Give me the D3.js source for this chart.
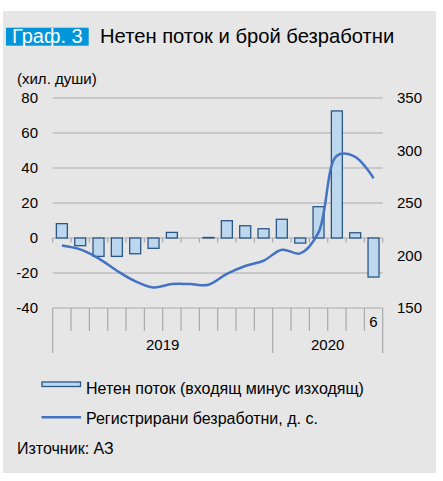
<!DOCTYPE html>
<html>
<head>
<meta charset="utf-8">
<script src="https://cdn.jsdelivr.net/npm/d3@7"></script>
<style>
  body { margin: 0; background: #fff; }
  svg text { font-family: "Liberation Sans", Arial, sans-serif; fill: #000; }
</style>
</head>
<body>
<div id="chart"></div>
<script>
// months Jan 2019 .. Jun 2020
const months = ["1", "2", "3", "4", "5", "6", "7", "8", "9", "10", "11", "12",
                "1", "2", "3", "4", "5", "6"];
const monthLabels = ["", "", "", "", "", "", "", "", "", "", "", "",
                     "", "", "", "", "", "6"];
const years = ["2019", "2020"];
const yearMonths = [12, 6];
// net flow, thousand persons (left axis)
const netFlow = [8.2, -4.4, -10.5, -10.5, -9, -5.9, 3.2, null, 0.3, 9.9, 7, 5.3,
                 10.7, -2.9, 17.9, 72.6, 3, -22.3];
// registered unemployed, thousand persons (right axis)
const unemployed = [209.5, 205.8, 197.3, 185.5, 175.5, 169.5, 172.8, 172.8, 172.2, 182.5, 190, 195,
                    205.5, 202, 222, 295, 294, 273.5];
const leftTicks = [-40, -20, 0, 20, 40, 60, 80];
const rightTicks = [150, 200, 250, 300, 350];

const W = 443, H = 481;
const plot = { left: 52.7, right: 382.7, top: 98, bottom: 308 };

const svg = d3.select("#chart").append("svg")
    .attr("width", W)
    .attr("height", H);

svg.append("rect")
    .attr("x", 3).attr("y", 11)
    .attr("width", 433).attr("height", 462)
    .attr("fill", "#e6e6e6");

// title
svg.append("rect")
    .attr("x", 6).attr("y", 27.7)
    .attr("width", 82.7).attr("height", 18)
    .attr("fill", "#0096d9");
svg.append("text")
    .attr("x", 12).attr("y", 43)
    .style("font-size", "20px")
    .style("fill", "#fff")
    .text("Граф. 3");
svg.append("text")
    .attr("x", 100).attr("y", 43)
    .style("font-size", "20.2px")
    .text("Нетен поток и брой безработни");

svg.append("text")
    .attr("x", 17).attr("y", 84)
    .style("font-size", "15px")
    .text("(хил. души)");

const x = d3.scaleBand()
    .domain(d3.range(months.length))
    .range([plot.left, plot.right])
    .paddingInner(0.4)
    .paddingOuter(0.2);
const step = x.step();
const yL = d3.scaleLinear().domain([-40, 80]).range([plot.bottom, plot.top]);
const yR = d3.scaleLinear().domain([150, 350]).range([plot.bottom, plot.top]);

// gridlines
svg.append("g")
    .selectAll("line")
    .data(leftTicks)
    .join("line")
    .attr("x1", plot.left).attr("x2", plot.right)
    .attr("y1", d => yL(d)).attr("y2", d => yL(d))
    .attr("stroke", "#a9a9a9")
    .attr("stroke-width", 1.2);

// left axis labels
const leftAxis = svg.append("g")
    .attr("transform", `translate(38,0)`)
    .call(d3.axisLeft(yL).tickValues(leftTicks).tickSize(0).tickPadding(0)
        .tickFormat(d => String(d)));
leftAxis.select(".domain").remove();
leftAxis.selectAll("text").style("font-size", "15px").attr("font-family", null);

// right axis labels
const rightAxis = svg.append("g")
    .attr("transform", `translate(397,0)`)
    .call(d3.axisRight(yR).tickValues(rightTicks).tickSize(0).tickPadding(0));
rightAxis.select(".domain").remove();
rightAxis.selectAll("text").style("font-size", "15px").attr("font-family", null);

// small ticks under zero line
const bounds = d3.range(months.length + 1).map(i => plot.left + i * step);
svg.append("g")
    .selectAll("line")
    .data(bounds)
    .join("line")
    .attr("x1", d => d).attr("x2", d => d)
    .attr("y1", yL(0)).attr("y2", yL(0) + 4.5)
    .attr("stroke", "#a9a9a9")
    .attr("stroke-width", 1.2);

// bottom multi-level category axis
const yearBounds = [0];
yearMonths.forEach(n => yearBounds.push(yearBounds[yearBounds.length - 1] + n));
svg.append("g")
    .selectAll("line")
    .data(d3.range(months.length + 1))
    .join("line")
    .attr("x1", i => plot.left + i * step).attr("x2", i => plot.left + i * step)
    .attr("y1", plot.bottom)
    .attr("y2", i => yearBounds.includes(i) ? 353 : 331)
    .attr("stroke", "#a9a9a9")
    .attr("stroke-width", 1.2);

svg.append("g")
    .selectAll("text")
    .data(monthLabels)
    .join("text")
    .attr("x", (d, i) => x(i) + x.bandwidth() / 2)
    .attr("y", 327)
    .attr("text-anchor", "middle")
    .style("font-size", "15px")
    .text(d => d);

svg.append("g")
    .selectAll("text")
    .data(years)
    .join("text")
    .attr("x", (d, i) => plot.left + (yearBounds[i] + yearBounds[i + 1]) / 2 * step)
    .attr("y", 350)
    .attr("text-anchor", "middle")
    .style("font-size", "15px")
    .text(d => d);

// bars
svg.append("g")
    .selectAll("rect")
    .data(netFlow.map((v, i) => ({ i, v })).filter(d => d.v !== null))
    .join("rect")
    .attr("x", d => x(d.i))
    .attr("width", x.bandwidth())
    .attr("y", d => yL(Math.max(0, d.v)))
    .attr("height", d => Math.abs(yL(d.v) - yL(0)))
    .attr("fill", "#bdd7ee")
    .attr("stroke", "#2a5783")
    .attr("stroke-width", 1.3);

// line
const line = d3.line()
    .x((d, i) => x(i) + x.bandwidth() / 2)
    .y(d => yR(d))
    .curve(d3.curveCatmullRom.alpha(0.5));
svg.append("path")
    .datum(unemployed)
    .attr("d", line)
    .attr("fill", "none")
    .attr("stroke", "#4472c4")
    .attr("stroke-width", 2.5);

// legend
svg.append("rect")
    .attr("x", 42).attr("y", 382)
    .attr("width", 38.5).attr("height", 4.5)
    .attr("fill", "#bdd7ee")
    .attr("stroke", "#2a5783")
    .attr("stroke-width", 1.3);
svg.append("text")
    .attr("x", 86).attr("y", 394)
    .style("font-size", "16px")
    .text("Нетен поток (входящ минус изходящ)");
svg.append("line")
    .attr("x1", 41.5).attr("x2", 81)
    .attr("y1", 417.3).attr("y2", 417.3)
    .attr("stroke", "#4472c4")
    .attr("stroke-width", 2.5);
svg.append("text")
    .attr("x", 86).attr("y", 424)
    .style("font-size", "16px")
    .text("Регистрирани безработни, д. с.");

svg.append("text")
    .attr("x", 17).attr("y", 454)
    .style("font-size", "16px")
    .text("Източник: АЗ");
</script>
</body>
</html>
